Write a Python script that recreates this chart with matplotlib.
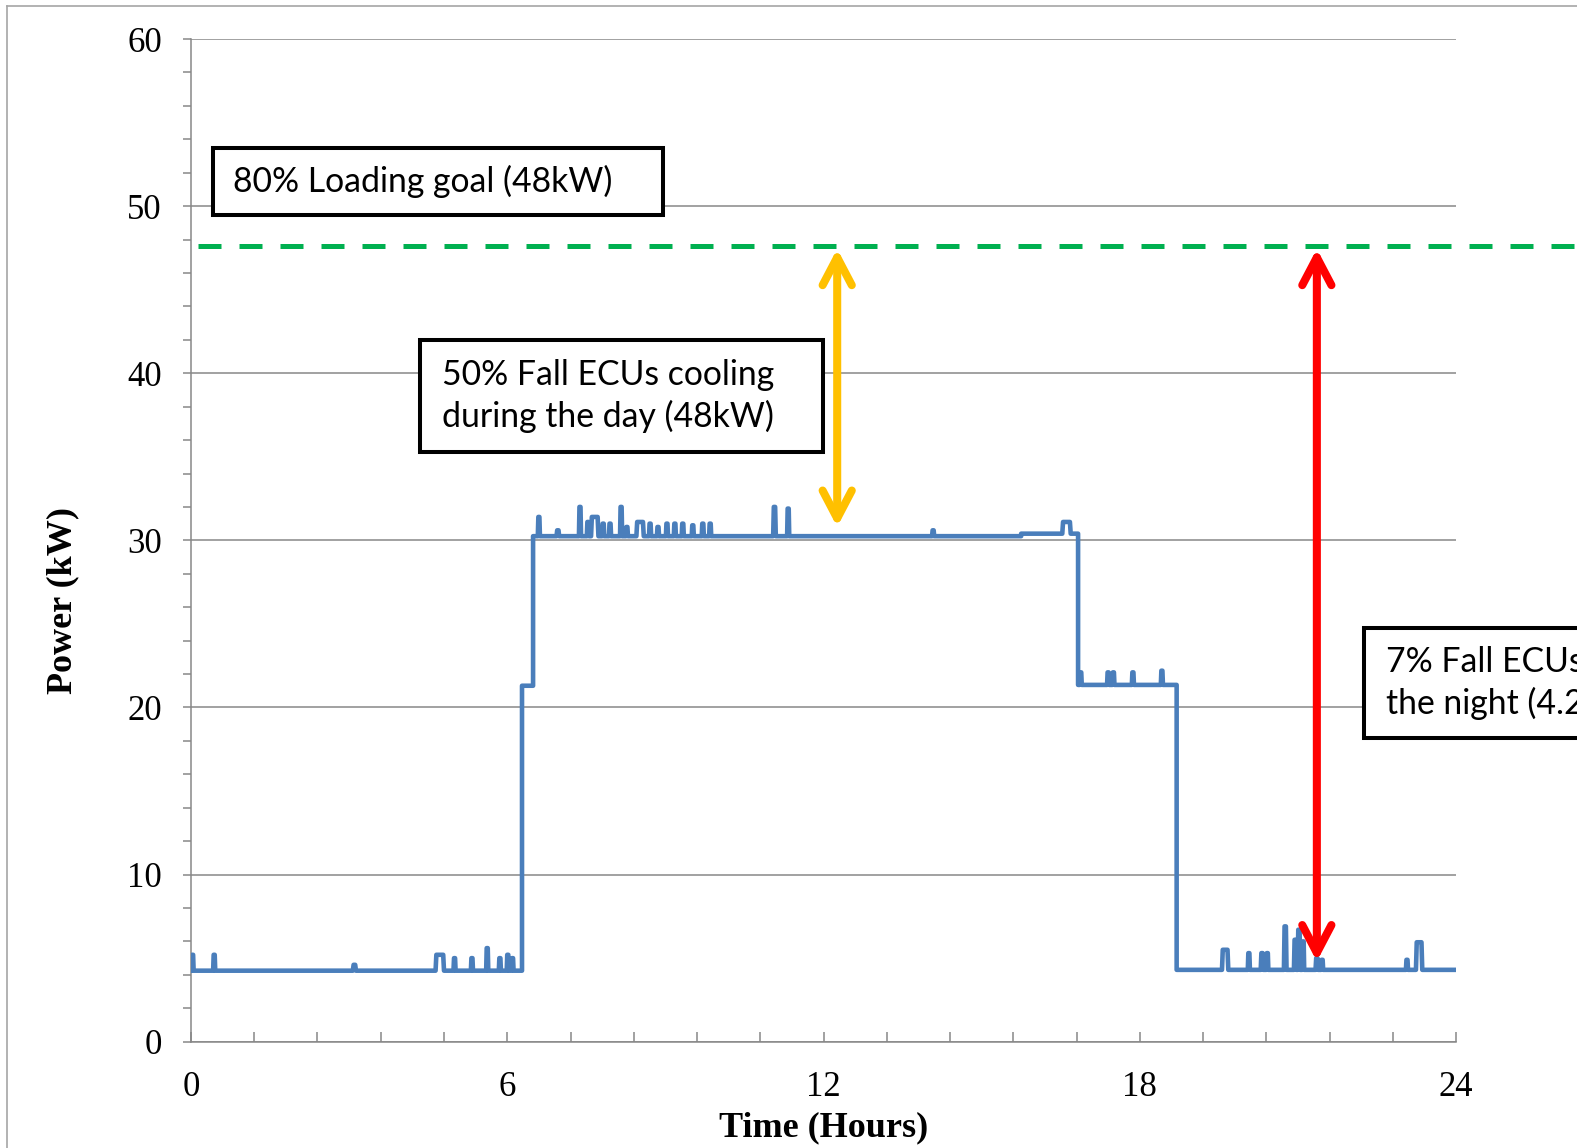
import numpy as np
import matplotlib.pyplot as plt
from matplotlib.patches import Rectangle, FancyArrowPatch, ArrowStyle
from matplotlib.lines import Line2D
from matplotlib.ticker import MultipleLocator

# step levels of the power trace (start hour, kW)
level_start_h = [0.0, 6.28, 6.49, 15.75, 16.83, 18.70]
level_kw = [4.25, 21.3, 30.25, 30.4, 21.35, 4.3]

# short spikes / humps sitting on the levels (hour, peak kW, width in hours)
spike_h = [0.03, 0.44, 3.10, 4.72, 5.00, 5.33, 5.62, 5.86, 6.01, 6.10,
           6.60, 6.96, 7.38, 7.53, 7.66, 7.82, 7.95, 8.16, 8.27, 8.52,
           8.71, 8.86, 9.03, 9.18, 9.33, 9.52, 9.71, 9.85, 11.07, 11.33,
           14.08, 16.61,
           16.88, 17.40, 17.50, 17.87, 18.42,
           19.62, 20.07, 20.32, 20.42, 20.76, 20.95, 21.02, 21.10, 21.36,
           21.46, 23.07, 23.30]
spike_kw = [5.2, 5.2, 4.6, 5.2, 5.0, 5.0, 5.6, 5.0, 5.2, 5.0,
            31.4, 30.6, 32.0, 31.1, 31.4, 31.0, 31.0, 32.0, 30.8, 31.1,
            31.0, 30.8, 31.0, 31.0, 31.0, 30.9, 31.0, 31.0, 32.0, 31.9,
            30.6, 31.1,
            22.1, 22.1, 22.1, 22.1, 22.2,
            5.5, 5.3, 5.3, 5.3, 6.9, 6.1, 6.7, 6.0, 5.0,
            4.9, 4.9, 5.95]
spike_w = [0.04, 0.04, 0.06, 0.16, 0.04, 0.04, 0.04, 0.04, 0.04, 0.04,
           0.04, 0.05, 0.04, 0.04, 0.14, 0.04, 0.04, 0.04, 0.04, 0.14,
           0.04, 0.04, 0.04, 0.04, 0.04, 0.04, 0.04, 0.04, 0.05, 0.04,
           0.04, 0.16,
           0.04, 0.04, 0.04, 0.04, 0.04,
           0.12, 0.04, 0.05, 0.04, 0.05, 0.05, 0.05, 0.04, 0.05,
           0.04, 0.04, 0.12]

goal_kw = 47.6
day_arrow_h, day_arrow_kw = 12.26, 30.8
night_arrow_h, night_arrow_kw = 21.36, 4.8

y_ticks = [0, 10, 20, 30, 40, 50, 60]
x_ticks = [0, 6, 12, 18, 24]

box_texts = ["80% Loading goal (48kW)",
             "50% Fall ECUs cooling\nduring the day (48kW)",
             "7% Fall ECUs cooling during\nthe night (4.2kW)"]

# build the polyline from levels and spikes
t_pts, p_pts = [], []
ends = level_start_h[1:] + [24.0]
for s, e, lv in zip(level_start_h, ends, level_kw):
    t_pts.append(s); p_pts.append(lv)
    for t, pk, w in zip(spike_h, spike_kw, spike_w):
        if s <= t < e:
            r = min(0.015, w / 4)
            t_pts += [t - w / 2, t - w / 2 + r, t + w / 2 - r, t + w / 2]
            p_pts += [lv, pk, pk, lv]
    t_pts.append(e); p_pts.append(lv)

W, H = 1577, 1148
fig = plt.figure(figsize=(W / 100, H / 100), dpi=100)
fig.patch.set_facecolor("white")
ax = fig.add_axes([191 / W, 1 - 1041.7 / H, 1265 / W, 1002.7 / H])

grey = "#878787"
ax.plot(t_pts, p_pts, color="#4a7ebb", lw=3.3, solid_joinstyle="round", zorder=3)

ax.set_xlim(0, 24)
ax.set_ylim(0, 60)
ax.set_xticks(x_ticks)
ax.set_yticks(y_ticks)
ax.xaxis.set_minor_locator(MultipleLocator(1.2))
ax.yaxis.set_minor_locator(MultipleLocator(2))
ax.grid(axis="y", which="major", color=grey, lw=1.1)
ax.set_axisbelow(True)
for side in ["top", "right"]:
    ax.spines[side].set_visible(False)
for side in ["left", "bottom"]:
    ax.spines[side].set_color(grey)
    ax.spines[side].set_linewidth(1.1)

ax.tick_params(axis="y", which="both", direction="out", length=6, width=1.1,
               color=grey, pad=15, labelsize=25)
ax.tick_params(axis="x", which="both", direction="in", length=7, width=1.1,
               color=grey, pad=21, labelsize=25)
for lab in ax.get_xticklabels() + ax.get_yticklabels():
    lab.set_family("Liberation Serif")

ax.set_xlabel("Time (Hours)", family="Liberation Serif", fontweight="bold",
              fontsize=26, va="center")
ax.xaxis.set_label_coords(0.5, -0.086)
ax.set_ylabel("Power (kW)", family="Liberation Serif", fontweight="bold",
              fontsize=26, va="center")
ax.yaxis.set_label_coords(-0.1012, 0.44)

# 80% goal line
ax.plot([0.13, 27], [goal_kw, goal_kw], color="#00b050", lw=3.6,
        dashes=(4.6, 3.6), clip_on=False, zorder=4)

# double-headed arrows
for xh, ylow, col in [(day_arrow_h, day_arrow_kw, "#ffc000"),
                      (night_arrow_h, night_arrow_kw, "#ff0000")]:
    arr = FancyArrowPatch((xh, ylow), (xh, goal_kw - 0.15),
                          arrowstyle=ArrowStyle("<->", head_length=20, head_width=10.5),
                          mutation_scale=1, lw=5.8, color=col, shrinkA=0, shrinkB=0,
                          joinstyle="round", capstyle="round", clip_on=False, zorder=5)
    ax.add_patch(arr)

# annotation boxes in pixel layout
def fx(x):
    return x / W

def fy(y):
    return 1 - y / H

boxes = [(213, 148, 663, 215, 233), (420, 340, 823, 452, 442), (1364, 628, 1800, 738, 1386)]
for (l, t, r, b, tx), txt in zip(boxes, box_texts):
    fig.add_artist(Rectangle((fx(l), fy(b)), fx(r) - fx(l), fy(t) - fy(b),
                             transform=fig.transFigure, facecolor="white",
                             edgecolor="black", lw=2.9, zorder=6))
    fig.text(fx(tx), fy((t + b) / 2), txt, family="Lato", fontsize=24.3,
             ha="left", va="center", linespacing=1.3, zorder=7)

# outer frame (only left/top visible)
fig.add_artist(Line2D([fx(7), fx(7)], [fy(6), -0.1], transform=fig.transFigure,
                      color="#a6a6a6", lw=1.2))
fig.add_artist(Line2D([fx(7), 1.1], [fy(6), fy(6)], transform=fig.transFigure,
                      color="#a6a6a6", lw=1.2))

fig.savefig("out.png", dpi=100)
